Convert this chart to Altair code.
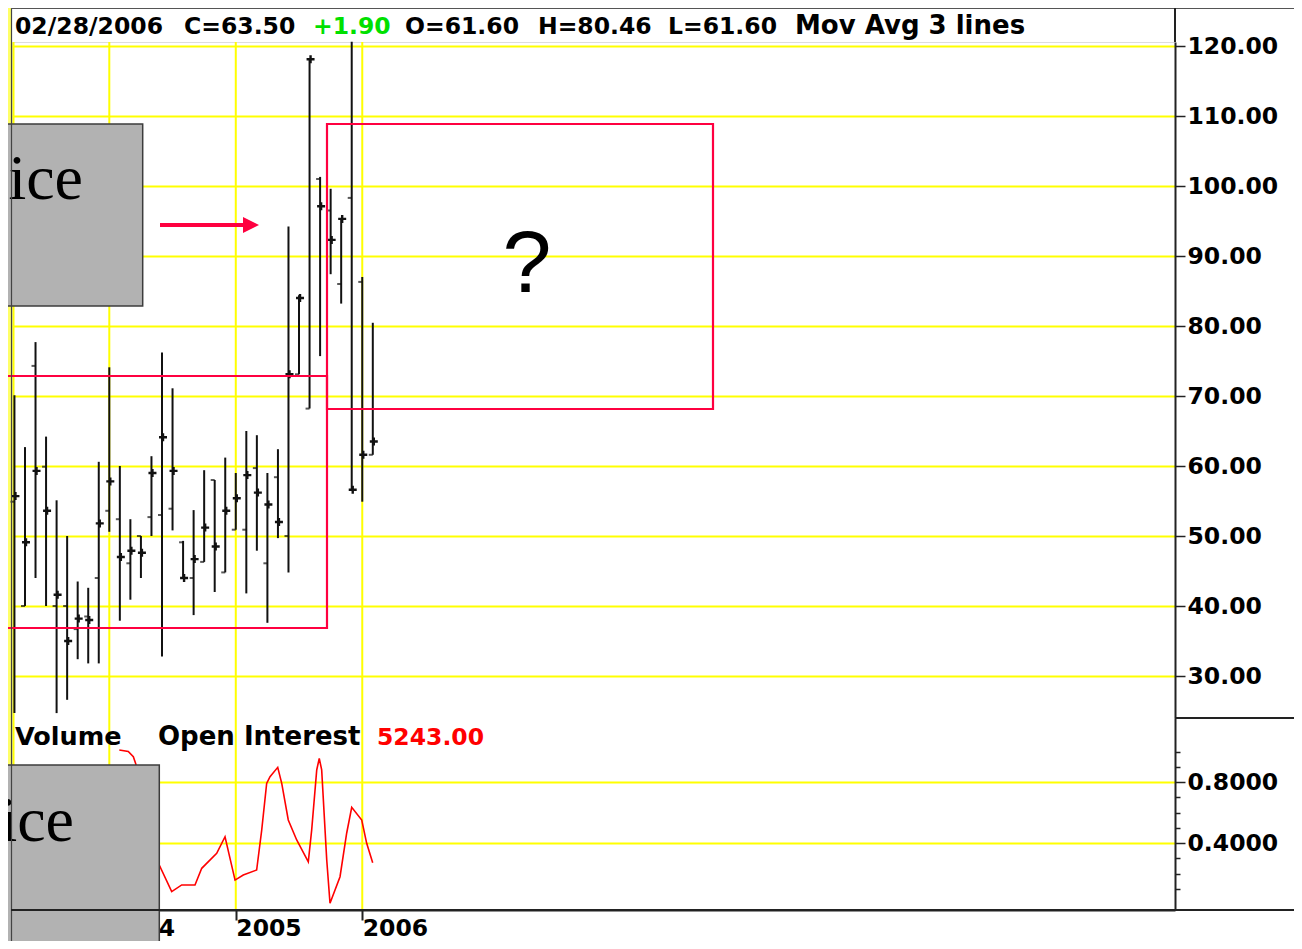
import altair as alt
import pandas as pd

# ---------------- data ----------------
bar_months = ["2003-04", "2003-05", "2003-06", "2003-07", "2003-08", "2003-09",
              "2003-10", "2003-11", "2003-12",
              "2004-01", "2004-02", "2004-03", "2004-04", "2004-05", "2004-06",
              "2004-07", "2004-08", "2004-09", "2004-10", "2004-11", "2004-12",
              "2005-01", "2005-02", "2005-03", "2005-04", "2005-05", "2005-06",
              "2005-07", "2005-08", "2005-09", "2005-10", "2005-11", "2005-12",
              "2006-01", "2006-02"]
bar_open = [54.9, 40.0, 74.3, 59.9, 40.0, 40.0, 36.7, 38.5, 44.0,
            53.6, 52.4, 46.1, 50.0, 52.7, 53.0, 53.9, 49.1, 44.0, 46.3, 58.0, 44.8,
            50.9, 50.9, 59.7, 46.1, 58.4, 50.0, 73.1, 68.2, 101.0, 96.5, 86.0, 98.3,
            86.3, 61.6]
bar_high = [70.1, 62.7, 77.7, 64.2, 55.1, 50.0, 43.5, 42.6, 60.6,
            74.1, 60.0, 52.4, 50.0, 61.4, 76.2, 71.1, 49.3, 53.7, 59.4, 58.0, 61.2,
            59.0, 65.0, 64.4, 59.0, 62.4, 94.2, 84.4, 118.1, 101.3, 99.6, 95.3, 120.6,
            87.0, 80.46]
bar_low = [24.7, 40.0, 44.0, 40.0, 24.7, 26.6, 32.4, 31.8, 31.8,
           50.6, 37.9, 40.9, 44.0, 50.0, 32.8, 50.8, 44.0, 38.7, 46.3, 42.0, 44.8,
           50.9, 41.8, 47.9, 37.6, 49.7, 44.8, 73.1, 68.2, 75.7, 87.4, 83.2, 56.6,
           54.9, 61.6]
bar_close = [55.7, 49.1, 59.3, 53.6, 41.6, 35.0, 38.2, 38.0, 51.8,
             57.8, 47.0, 47.9, 47.6, 59.0, 64.1, 59.3, 44.0, 46.7, 51.2, 48.5, 53.6,
             55.4, 58.7, 56.2, 54.5, 52.0, 73.1, 84.0, 118.1, 97.1, 92.3, 95.3, 56.6,
             61.6, 63.5]

# open interest line: time in months since Jan 2004, value on the lower scale
oi_month = [0.95, 1.80, 2.28, 2.50, 4.74, 5.92, 6.87, 8.13, 8.77, 10.19, 10.98,
            11.93, 12.71, 13.98, 14.46, 14.93, 15.25, 15.98, 16.36, 16.98, 17.78,
            18.88, 19.20, 19.68, 19.92, 20.15, 20.63, 20.94, 21.89, 22.52, 23.00,
            23.95, 24.42, 24.99]
oi_value = [1.01, 1.00, 0.966, 0.922, 0.256, 0.081, 0.125, 0.125, 0.234, 0.332,
            0.441, 0.157, 0.190, 0.223, 0.485, 0.791, 0.835, 0.896, 0.791, 0.551,
            0.420, 0.277, 0.485, 0.879, 0.955, 0.879, 0.289, 0.005, 0.179, 0.464,
            0.634, 0.551, 0.398, 0.271]

year_ticks = [0, 12, 24]            # Jan 2004, Jan 2005, Jan 2006
price_ticks = [30, 40, 50, 60, 70, 80, 90, 100, 110, 120]
oi_ticks = [0.1, 0.2, 0.3, 0.4, 0.5, 0.6, 0.7, 0.8, 0.9, 1.0]

header_texts = ["02/28/2006", "C=63.50", "+1.90", "O=61.60", "H=80.46",
                "L=61.60", "Mov Avg 3 lines"]
panel_texts = ["Volume", "Open Interest", "5243.00"]

# ---------------- layout / style ----------------
W, H = 1163, 868          # plot area (price panel 0..676, OI panel 676..868)
PRICE_H = 676
FONT = "DejaVu Sans"
FS = 23.5                 # digits
FS_WORD = 26              # wider lettering of the original bitmap font
YELLOW = "#FFFF00"
SLIDE_YELLOW = "#FFFF66"
RED = "#FF0040"
DARK = "#222222"

ohlc = pd.DataFrame({"month": bar_months, "open": bar_open, "high": bar_high,
                     "low": bar_low, "close": bar_close})
dt = pd.to_datetime(ohlc["month"])
ohlc["m"] = (dt.dt.year - 2004) * 12 + (dt.dt.month - 1)
oi = pd.DataFrame({"m": oi_month, "v": oi_value})
years = pd.DataFrame({"m": year_ticks})
one = pd.DataFrame({"k": [0]})

px_per_month = 10.54
x0 = -97.3 / px_per_month
x_scale = alt.Scale(domain=[x0, x0 + W / px_per_month], nice=False, zero=False)
price_scale = alt.Scale(domain=[24.0, 120.0 + 4 / 7.0], range=[PRICE_H, 0],
                        nice=False, zero=False)
oi_scale = alt.Scale(domain=[-0.0393, 1.2197], range=[H, PRICE_H], nice=False, zero=False)

x_axis = alt.Axis(values=year_ticks, labelExpr="'' + (2004 + floor(datum.value / 12))",
                  orient="bottom", title=None, grid=False,
                  domainColor=DARK, domainWidth=2, tickColor=DARK, tickWidth=2, tickSize=10,
                  labelFont=FONT, labelFontSize=FS, labelFontWeight="bold", labelColor="black",
                  labelAlign="left", labelBaseline="top", labelPadding=-4,
                  labelFlush=False, labelOverlap=False, zindex=0)
price_axis = alt.Axis(values=price_ticks, format=".2f", orient="right", title=None,
                      grid=True, gridColor=YELLOW, gridWidth=2,
                      domainColor=DARK, domainWidth=2, tickColor=DARK, tickWidth=1.5,
                      tickSize=10, labelFont=FONT, labelFontSize=FS, labelFontWeight="bold",
                      labelColor="black", labelPadding=2, labelBaseline="middle",
                      labelOverlap=False, zindex=0)
major = "datum.value == 0.4 || datum.value == 0.8"
oi_axis = alt.Axis(values=oi_ticks, orient="right", title=None,
                   labelExpr=f"({major}) ? format(datum.value, '.4f') : ''",
                   grid=True, gridColor=YELLOW, gridWidth=2,
                   gridOpacity={"condition": {"test": major, "value": 1}, "value": 0},
                   tickSize={"condition": {"test": major, "value": 10}, "value": 5},
                   domainColor=DARK, domainWidth=2, tickColor=DARK, tickWidth=1.5,
                   labelFont=FONT, labelFontSize=FS, labelFontWeight="bold",
                   labelColor="black", labelPadding=2, labelBaseline="middle",
                   labelOverlap=False, zindex=0)

X = alt.X("m:Q", scale=x_scale, axis=x_axis)

# vertical (year) grid lines across both panels
year_grid = alt.Chart(years).mark_rule(color=YELLOW, strokeWidth=2).encode(
    x=X, y=alt.value(0), y2=alt.value(H))

# ---------------- price bars ----------------
base = alt.Chart(ohlc)
wicks = base.mark_rule(color="#111111", strokeWidth=2).encode(
    x=X, y=alt.Y("low:Q", scale=price_scale, axis=price_axis), y2="high:Q")
open_ticks = base.mark_tick(orient="horizontal", color="#111111", size=4, thickness=2,
                            xOffset=-2).encode(
    x=X, y=alt.Y("open:Q", scale=price_scale, axis=price_axis))
PLUS = ("M-1,-0.3L-0.3,-0.3L-0.3,-1L0.3,-1L0.3,-0.3L1,-0.3L1,0.3L0.3,0.3"
        "L0.3,1L-0.3,1L-0.3,0.3L-1,0.3Z")
close_marks = base.mark_point(shape=PLUS, filled=True, size=64, color="#111111",
                              opacity=1, xOffset=1).encode(
    x=X, y=alt.Y("close:Q", scale=price_scale, axis=price_axis))
price_group = alt.layer(wicks, open_ticks, close_marks)

# ---------------- open interest ----------------
oi_line = alt.Chart(oi).mark_line(color="#FF0000", strokeWidth=1.6).encode(
    x=X, y=alt.Y("v:Q", scale=oi_scale, axis=oi_axis))

# ---------------- annotations / frame (pixel positions inside the plot) ----------------
def rule(x, x2, y, y2, color, width):
    return alt.Chart(one).mark_rule(color=color, strokeWidth=width).encode(
        x=alt.value(x), x2=alt.value(x2), y=alt.value(y), y2=alt.value(y2))

def box(x, x2, y, y2, **kw):
    return alt.Chart(one).mark_rect(**kw).encode(
        x=alt.value(x), x2=alt.value(x2), y=alt.value(y), y2=alt.value(y2))

def label(text, x, y, color="black", align="left", font=FONT, size=FS, weight="bold"):
    return alt.Chart(one).mark_text(text=text, align=align, baseline="alphabetic",
                                    font=font, fontSize=size, fontWeight=weight,
                                    color=color).encode(x=alt.value(x), y=alt.value(y))

slide_strip = box(-12, -1, -50, 960, color=SLIDE_YELLOW)
edge_grid = rule(1.5, 1.5, 0, H, YELLOW, 2)

header_x = [3, 172, 301, 393, 526, 656, 783]
header_colors = ["black", "black", "#00E000", "black", "black", "black", "black"]
header_sizes = [FS, FS, FS, FS, FS, FS, FS_WORD]
headers = [label(t, x, -8.5, c, size=s)
           for t, x, c, s in zip(header_texts, header_x, header_colors, header_sizes)]

panel_x = [3, 146, 365]
panel_colors = ["black", "black", "#FF0000"]
panel_sizes = [FS_WORD - 0.5, FS_WORD, FS]
panels = [label(t, x, 703, c, size=s)
          for t, x, c, s in zip(panel_texts, panel_x, panel_colors, panel_sizes)]

red_box1 = box(-12, 315, 334, 586, filled=False, stroke=RED, strokeWidth=2.2)
red_box2 = box(315, 701, 82, 367, filled=False, stroke=RED, strokeWidth=2.2)
arrow_shaft = rule(148, 235, 183, 183, RED, 4)
arrow_head = alt.Chart(one).mark_point(shape="M-1,-1L1,0L-1,1Z", filled=True, size=256,
                                       color=RED, opacity=1).encode(
    x=alt.value(239), y=alt.value(183))
question = label("?", 515, 250, align="center", font="Liberation Sans", size=88,
                 weight="normal")

gray1 = box(-12, 130.7, 82, 264, color="#B2B2B2", stroke="#3C3C3C", strokeWidth=1.5)
gray2 = box(-12, 147.3, 723, 905, color="#B2B2B2", stroke="#3C3C3C", strokeWidth=1.5)
serif = "Liberation Serif"
gray_txt1 = label("rice", 71, 157, align="right", font=serif, size=64, weight="normal")
gray_txt2 = label("ice", 62, 799, align="right", font=serif, size=64, weight="normal")
gray_txt3 = label("s", -6, 888, align="right", font=serif, size=64, weight="normal")

frame = [
    rule(-0.5, -0.5, -40, 960, "#444444", 1.2),        # left frame
    rule(-1, 1292, -33.5, -33.5, "#555555", 1.2),      # top frame
    rule(W, W, -34, 0, DARK, 2),                       # axis line above plot
    rule(W, 1292, PRICE_H, PRICE_H, DARK, 2),          # panel separator in axis area
    rule(-1, 1292, H, H, DARK, 2),                     # bottom line across frame
]

chart = alt.layer(
    slide_strip, edge_grid, year_grid, price_group, oi_line, *headers, *panels,
    red_box1, red_box2, arrow_shaft, arrow_head, question,
    gray1, gray2, gray_txt1, gray_txt2, gray_txt3, *frame,
).resolve_scale(y="independent").properties(
    width=W, height=H,
    padding={"left": 4, "top": 34, "right": 119, "bottom": 31},
    autosize=alt.AutoSizeParams(type="none"),
).configure_view(stroke=None).configure(background="white")

chart.save("out.html", embed_options={"renderer": "svg", "actions": False})
